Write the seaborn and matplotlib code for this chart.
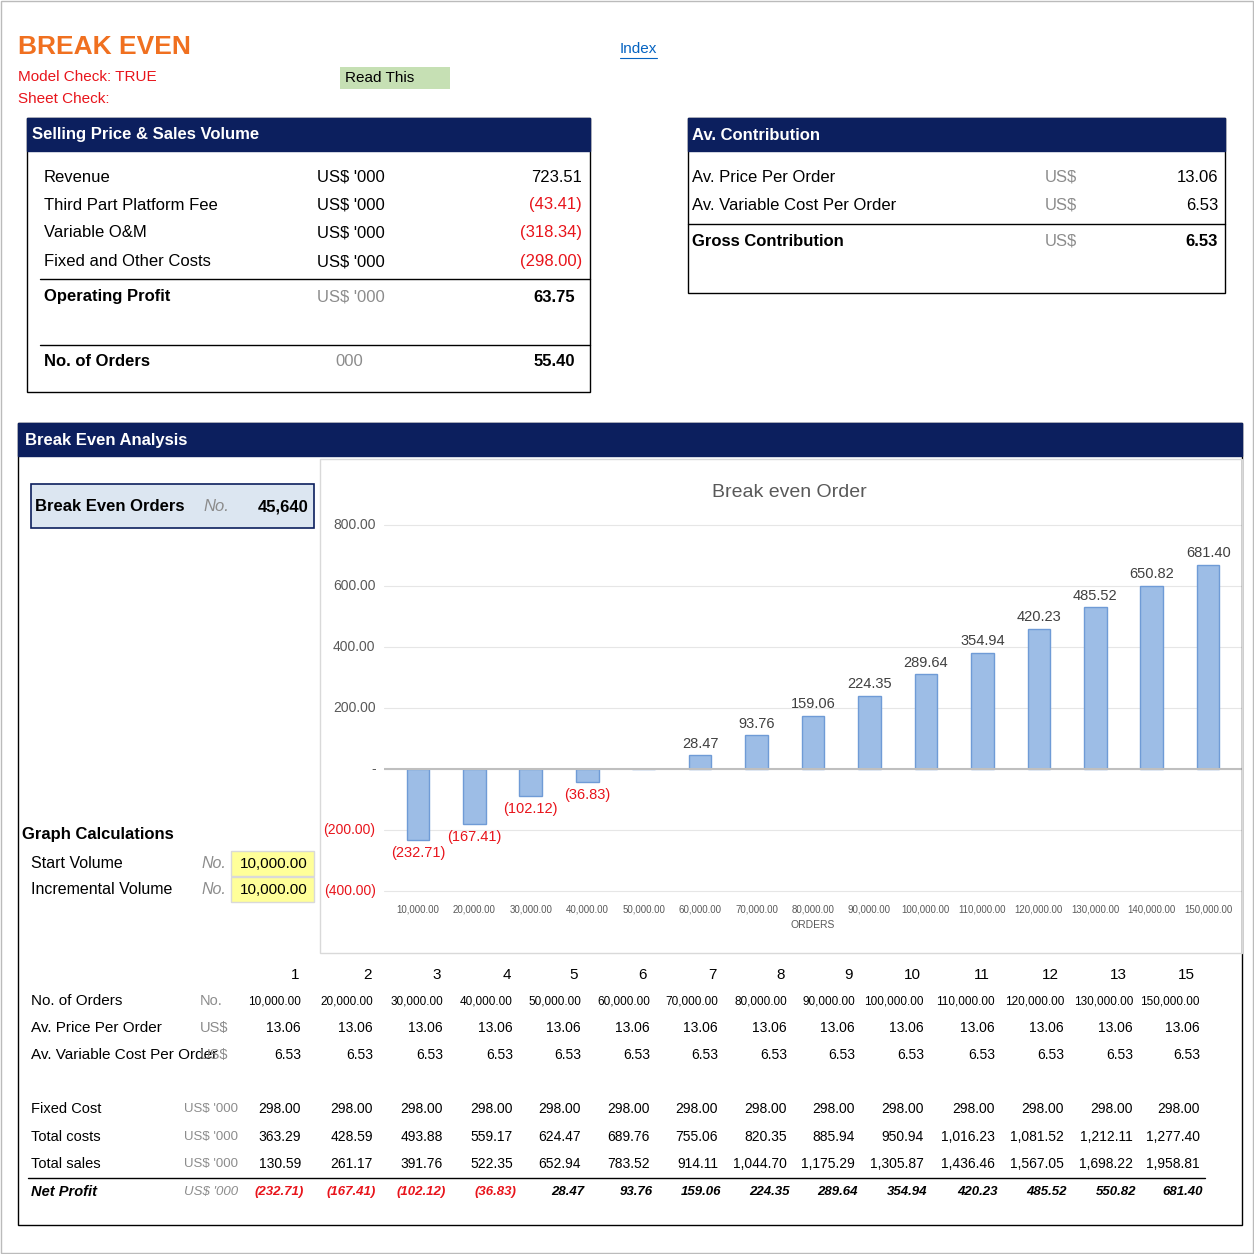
import matplotlib
matplotlib.use("Agg")
import matplotlib.pyplot as plt
import matplotlib.patches as mpatches
import seaborn as sns
import pandas as pd

sns.set_style("white")
plt.rcParams["font.family"] = ["Liberation Sans", "DejaVu Sans"]

NAVY = "#0c1f5e"
ORANGE = "#f07020"
RED = "#e8141b"
GREY = "#8c8c8c"
BAR = "#9dbde6"

# dados do gráfico
ordens_cat = ["10,000.00", "20,000.00", "30,000.00", "40,000.00", "50,000.00", "60,000.00",
              "70,000.00", "80,000.00", "90,000.00", "100,000.00", "110,000.00", "120,000.00",
              "130,000.00", "140,000.00", "150,000.00"]
alturas = [-232, -180, -88, -42, 0, 45, 110, 175, 240, 310, 380, 460, 530, 600, 670]
rotulos = ["(232.71)", "(167.41)", "(102.12)", "(36.83)", "", "28.47", "93.76", "159.06",
           "224.35", "289.64", "354.94", "420.23", "485.52", "650.82", "681.40"]

# dados da tabela
col_idx = ["1", "2", "3", "4", "5", "6", "7", "8", "9", "10", "11", "12", "13", "15"]
n_orders = ["10,000.00", "20,000.00", "30,000.00", "40,000.00", "50,000.00", "60,000.00",
            "70,000.00", "80,000.00", "90,000.00", "100,000.00", "110,000.00", "120,000.00",
            "130,000.00", "150,000.00"]
price = ["13.06"] * 14
var_cost = ["6.53"] * 14
fixed = ["298.00"] * 14
total_costs = ["363.29", "428.59", "493.88", "559.17", "624.47", "689.76", "755.06", "820.35",
               "885.94", "950.94", "1,016.23", "1,081.52", "1,212.11", "1,277.40"]
total_sales = ["130.59", "261.17", "391.76", "522.35", "652.94", "783.52", "914.11", "1,044.70",
               "1,175.29", "1,305.87", "1,436.46", "1,567.05", "1,698.22", "1,958.81"]
net_profit = ["(232.71)", "(167.41)", "(102.12)", "(36.83)", "28.47", "93.76", "159.06", "224.35",
              "289.64", "354.94", "420.23", "485.52", "550.82", "681.40"]

W = 1254
fig = plt.figure(figsize=(12.54, 12.54), dpi=100)


def T(x, y, s, size=12, color="black", ha="left", weight="normal", **kw):
    fig.text(x / W, 1 - y / W, s, fontsize=size, color=color, ha=ha, va="center",
             weight=weight, **kw)


def R(x, y, w, h, fc="none", ec="black", lw=1.0):
    fig.add_artist(mpatches.Rectangle((x / W, 1 - (y + h) / W), w / W, h / W,
                                      transform=fig.transFigure, fc=fc, ec=ec, lw=lw))


def L(x1, x2, y, color="black", lw=1.0):
    fig.add_artist(plt.Line2D([x1 / W, x2 / W], [1 - y / W, 1 - y / W],
                              transform=fig.transFigure, color=color, lw=lw))


# borda
R(1, 1, 1252, 1252, ec="#bbbbbb")

# cabeçalho
T(18, 47, "BREAK EVEN", 19, ORANGE, weight="bold")
T(18, 77, "Model Check: TRUE", 11, RED)
T(18, 99, "Sheet Check:", 11, RED)
R(340, 67, 110, 22, fc="#c6e0b4", ec="none")
T(345, 78, "Read This", 11)
T(620, 49, "Index", 11, "#0563c1")
L(620, 657, 58, "#0563c1", 0.8)

# Selling Price & Sales Volume
R(27, 118, 563, 274)
R(27, 118, 563, 33, fc=NAVY, ec=NAVY)
T(32, 135, "Selling Price & Sales Volume", 12, "white", weight="bold")
linhas = [("Revenue", "723.51", "black", 177), ("Third Part Platform Fee", "(43.41)", RED, 205),
          ("Variable O&M", "(318.34)", RED, 233), ("Fixed and Other Costs", "(298.00)", RED, 262)]
for nome, val, cor, y in linhas:
    T(44, y, nome, 12)
    T(317, y, "US$ '000", 12)
    T(582, y, val, 12, cor, ha="right")
L(40, 590, 279)
T(44, 297, "Operating Profit", 12, weight="bold")
T(317, 297, "US$ '000", 12, GREY)
T(575, 297, "63.75", 12, weight="bold", ha="right")
L(40, 590, 345)
T(44, 362, "No. of Orders", 12, weight="bold")
T(335, 362, "000", 12, GREY)
T(575, 362, "55.40", 12, weight="bold", ha="right")

# Av. Contribution
R(688, 118, 537, 175)
R(688, 118, 537, 33, fc=NAVY, ec=NAVY)
T(692, 135, "Av. Contribution", 12, "white", weight="bold")
T(692, 177, "Av. Price Per Order", 12)
T(1045, 177, "US$", 12, GREY)
T(1218, 177, "13.06", 12, ha="right")
T(692, 205, "Av. Variable Cost Per Order", 12)
T(1045, 205, "US$", 12, GREY)
T(1218, 205, "6.53", 12, ha="right")
L(688, 1225, 224)
T(692, 241, "Gross Contribution", 12, weight="bold")
T(1045, 241, "US$", 12, GREY)
T(1218, 241, "6.53", 12, weight="bold", ha="right")

# Break Even Analysis
R(18, 423, 1224, 802)
R(18, 423, 1224, 33, fc=NAVY, ec=NAVY)
T(25, 440, "Break Even Analysis", 12, "white", weight="bold")
R(31, 484, 283, 44, fc="#dce6f1", ec=NAVY, lw=1.2)
T(35, 507, "Break Even Orders", 12, weight="bold")
T(203, 507, "No.", 12, GREY, style="italic")
T(308, 507, "45,640", 12, weight="bold", ha="right")

T(22, 835, "Graph Calculations", 12, weight="bold")
T(31, 864, "Start Volume", 11.5)
T(202, 864, "No.", 11.5, GREY, style="italic")
R(231, 851, 83, 25, fc="#ffff99", ec="#d9d9d9")
T(308, 864, "10,000.00", 11, ha="right")
T(31, 890, "Incremental Volume", 11.5)
T(202, 890, "No.", 11.5, GREY, style="italic")
R(231, 877, 83, 25, fc="#ffff99", ec="#d9d9d9")
T(308, 890, "10,000.00", 11, ha="right")

# gráfico
R(320, 459, 922, 494, ec="#d9d9d9")
ax = fig.add_axes([384 / W, 1 - 900 / W, (1242 - 384) / W, (900 - 500) / W])
df = pd.DataFrame({"ordens": ordens_cat, "lucro": alturas})
sns.barplot(data=df, x="ordens", y="lucro", color=BAR, width=0.4, edgecolor="#6f9bd6",
            linewidth=1, saturation=1, ax=ax)
ax.set_ylim(-430, 882)
ax.set_yticks([-400, -200, 0, 200, 400, 600, 800])
ax.set_yticklabels([])
for v, s in zip([-400, -200, 0, 200, 400, 600, 800],
                ["(400.00)", "(200.00)", "-", "200.00", "400.00", "600.00", "800.00"]):
    ax.text(-0.75, v, s, ha="right", va="center", fontsize=10,
            color=RED if v < 0 else "#595959")
ax.grid(axis="y", color="#e6e6e6")
ax.axhline(0, color="#bfbfbf", lw=1.5)
for s in ax.spines.values():
    s.set_visible(False)
ax.tick_params(axis="x", labelsize=7, colors="#595959", length=0)
ax.tick_params(axis="y", length=0)
ax.set_xlabel("ORDERS", fontsize=7.5, color="#595959")
ax.set_ylabel("")
ax.set_xlim(-0.6, 14.6)
for i, (h, s) in enumerate(zip(alturas, rotulos)):
    if not s:
        continue
    if h < 0:
        ax.text(i, h - 20, s, ha="center", va="top", fontsize=10.5, color=RED)
    else:
        ax.text(i, h + 15, s, ha="center", va="bottom", fontsize=10.5, color="#404040")
T(789, 492, "Break even Order", 14, "#595959", ha="center")

# tabela
xs = [301, 373, 443, 513, 581, 650, 718, 787, 855, 924, 995, 1064, 1133, 1200]
xi = [299, 372, 441, 511, 578, 647, 717, 785, 853, 921, 990, 1059, 1127, 1195]
for x, s in zip(xi, col_idx):
    T(x, 975, s, 11, ha="right")
linhas_tab = [("No. of Orders", "No.", n_orders, 1001), ("Av. Price Per Order", "US$", price, 1028),
              ("Av. Variable Cost Per Order", "US$", var_cost, 1055),
              ("Fixed Cost", "US$ '000", fixed, 1109), ("Total costs", "US$ '000", total_costs, 1137),
              ("Total sales", "US$ '000", total_sales, 1164)]
for nome, un, vals, y in linhas_tab:
    T(31, y, nome, 10.5 if y > 1100 else 11)
    if un == "US$ '000":
        T(184, y, un, 9.5, GREY)
    else:
        T(200, y, un, 10.5, GREY)
    for x, v in zip(xs, vals):
        T(x, y, v, 8.5 if len(v) > 8 else 10, ha="right")
L(28, 1205, 1178)
T(31, 1192, "Net Profit", 10.5, weight="bold", style="italic")
T(184, 1192, "US$ '000", 9.5, GREY, style="italic")
for x, v in zip(xs, net_profit):
    T(x + 3, 1192, v, 9.5, RED if v.startswith("(") else "black", ha="right",
      weight="bold", style="italic")

fig.savefig("out.png", dpi=100)
